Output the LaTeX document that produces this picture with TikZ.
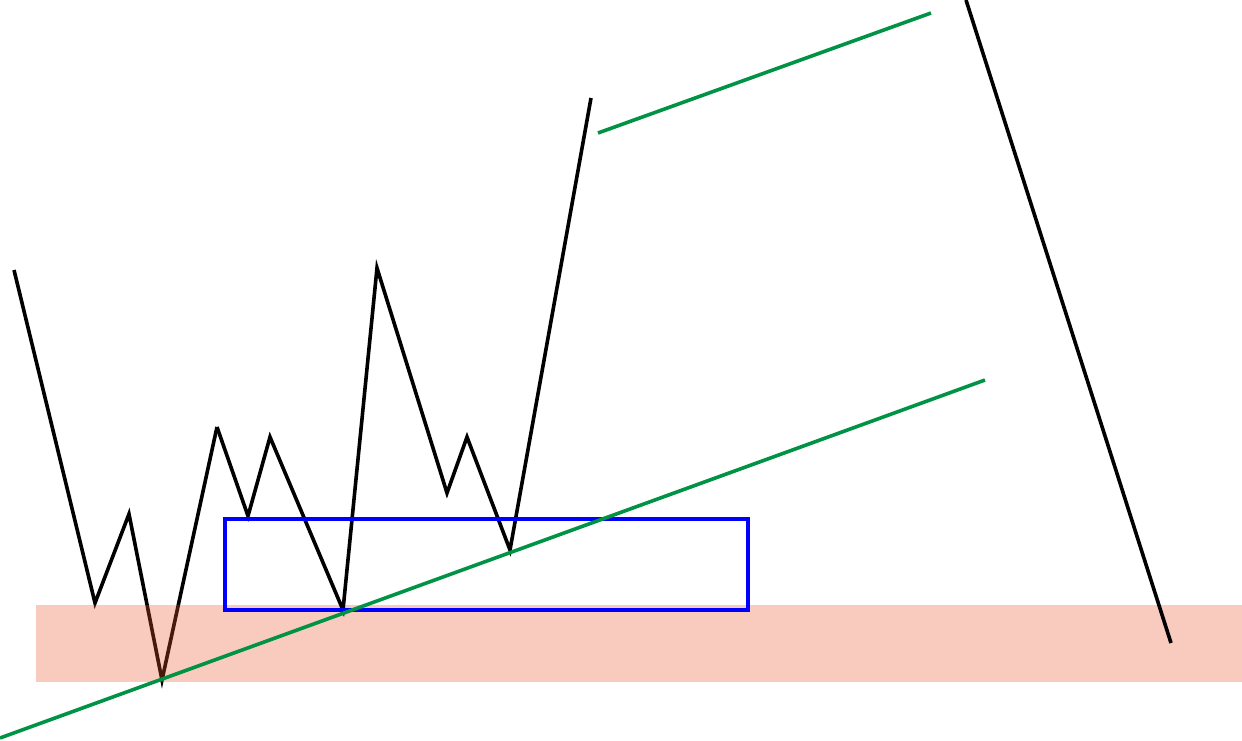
\documentclass[tikz,border=0pt]{standalone}
\definecolor{bandc}{RGB}{233,83,40}
\definecolor{trendg}{RGB}{0,146,69}
\tikzset{
  price/.style={draw=black,line width=3.6pt,line join=miter},
  trend/.style={draw=trendg,line width=3.6pt},
  zonebox/.style={draw=blue,line width=3.6pt},
  band/.style={fill=bandc,fill opacity=0.3}
}
\begin{document}
\begin{tikzpicture}[x=1pt,y=-1pt]
\useasboundingbox (0,0) rectangle (1242,741);
% price path, first part (under band)
\draw[price] (14,270) -- (95,603) -- (129,514) -- (162,680) -- (217,427);
% band
\fill[band] (36,605) rectangle (1242,682);
% price path, rest
\draw[price] (217,427) -- (248,516) -- (270,437) -- (343,610) -- (377,268) -- (447,493) -- (467,437) -- (510,550) -- (591,98);
\draw[price] (966,0) -- (1171,643);
% zone box
\draw[zonebox] (225,519) rectangle (748,610);
% trend lines
\draw[trend] (0,738) -- (985,380);
\draw[trend] (598,133) -- (931,13);
\end{tikzpicture}
\end{document}
